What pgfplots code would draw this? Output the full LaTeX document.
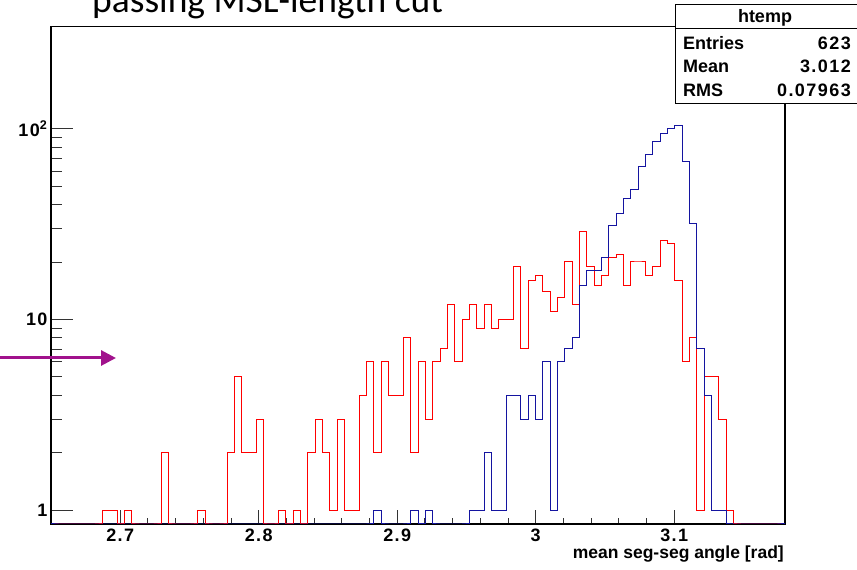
\documentclass[border=0pt]{standalone}
\usepackage{pgfplots}
\usepackage{pgfplotstable}
\pgfplotsset{compat=1.18}
\usepackage{fontspec}
\setmainfont{Liberation Sans}
\newfontfamily\titlefont{Carlito}
\newfontfamily\numfont[LetterSpace=8]{Liberation Sans}
\usetikzlibrary{arrows.meta}
\definecolor{histred}{RGB}{255,0,0}
\definecolor{histblue}{RGB}{20,20,160}
\definecolor{arrowc}{RGB}{161,18,140}

\pgfplotstableread{
i red blue
0 0 0
1 0 0
2 0 0
3 0 0
4 0 0
5 0 0
6 0 0
7 1 0
8 1 0
9 0 0
10 1 0
11 0 0
12 0 0
13 0 0
14 0 0
15 2 0
16 0 0
17 0 0
18 0 0
19 0 0
20 1 0
21 0 0
22 0 0
23 0 0
24 2 0
25 5 0
26 2 0
27 2 0
28 3 0
29 0 0
30 0 0
31 1 0
32 0 0
33 1 0
34 0 0
35 2 0
36 3 0
37 2 0
38 1 0
39 3 0
40 1 0
41 1 0
42 4 0
43 6 0
44 2 1
45 6 0
46 4 0
47 4 0
48 8 0
49 2 1
50 6 0
51 3 1
52 6 0
53 7 0
54 12 0
55 6 0
56 10 0
57 12 1
58 9 1
59 12 2
60 9 1
61 10 1
62 10 4
63 19 4
64 7 3
65 16 4
66 17 3
67 14 6
68 11 1
69 13 6
70 20 7
71 12 8
72 29 15
73 19 18
74 15 18
75 17 21
76 21 31
77 22 36
78 15 43
79 20 48
80 20 63
81 17 73
82 19 86
83 26 94
84 25 100
85 16 104
86 6 67
87 8 32
88 1 7
89 5 4
90 5 1
91 3 1
92 1 0
93 0 0
94 0 0
95 0 0
96 0 0
97 0 0
98 0 0
99 0 0
100 0 0
}\histdata

\begin{document}
\begin{tikzpicture}[x=1pt,y=1pt]
\useasboundingbox (0,0) rectangle (857,570);
\begin{axis}[
  at={(51pt,46pt)}, anchor=south west,
  scale only axis, width=734pt, height=497.5pt,
  xmin=2.65, xmax=3.18,
  ymode=log, ymin=0.847, ymax=343,
  clip=false,
  axis line style={black, line width=1.2pt},
  tick pos=left, tick align=inside,
  xtick={2.7,2.8,2.9,3.0,3.1},
  xticklabels={2.7,2.8,2.9,3,3.1},
  minor x tick num=4,
  ytick={1,10,100},
  yticklabels={1,10,10\textsuperscript{2}},
  major tick length=22pt, minor tick length=11pt,
  xtick style={/pgfplots/major tick length=14pt,/pgfplots/minor tick length=6pt},
  tick style={black!80, line width=0.9pt},
  ticklabel style={font=\numfont\fontsize{18}{18}\selectfont\bfseries},
  xticklabel style={yshift=-1pt},
]
\addplot[const plot, draw=histred, line width=1pt]
  table[x expr={2.65+0.0053*\thisrow{i}}, y expr={max(\thisrow{red},0.847)}] {\histdata};
\addplot[const plot, draw=histblue, line width=1pt]
  table[x expr={2.65+0.0053*\thisrow{i}}, y expr={max(\thisrow{blue},0.847)}] {\histdata};
\end{axis}
% title (partly cut off at the top, as in the reference)
\node[anchor=base west, inner sep=0pt, font=\titlefont\fontsize{37.5}{40}\selectfont] at (92,557) {passing MSL-length cut};
% x label
\node[anchor=base east, inner sep=0pt, font=\fontsize{17.5}{17.5}\selectfont\bfseries] at (784,11) {mean seg-seg angle [rad]};
% arrow
\draw[arrowc, line width=3pt, -{Triangle[length=15pt,width=15pt]}] (0,212) -- (116,212);
% stats box
\draw[black, line width=1pt, fill=white] (675,466) rectangle (875,565);
\draw[black, line width=1pt] (675,541) -- (875,541);
\begin{scope}[every node/.style={inner sep=0pt, font=\fontsize{18}{18}\selectfont\bfseries}]
\node[anchor=base] at (765,547) {htemp};
\node[anchor=base west] at (683,520.5) {Entries};
\node[anchor=base east, font=\numfont\fontsize{18}{18}\selectfont\bfseries] at (851,520.5) {623};
\node[anchor=base west] at (683,497) {Mean};
\node[anchor=base east, font=\numfont\fontsize{18}{18}\selectfont\bfseries] at (851,497) {3.012};
\node[anchor=base west] at (683,473.5) {RMS};
\node[anchor=base east, font=\numfont\fontsize{18}{18}\selectfont\bfseries] at (851,473.5) {0.07963};
\end{scope}
\end{tikzpicture}
\end{document}
